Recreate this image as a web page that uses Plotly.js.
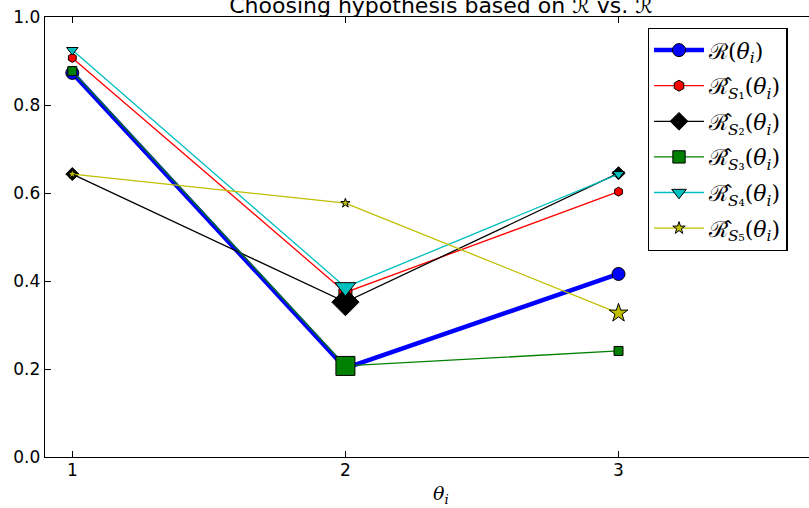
<!DOCTYPE html>
<html>
<head>
<meta charset="utf-8">
<script src="https://cdn.plot.ly/plotly-3.0.1.min.js"></script>
<style>
html,body{margin:0;padding:0;overflow:hidden;background:#fff;width:809px;height:508px;}
#chart{width:840px;height:508px;}
</style>
</head>
<body>
<div id="chart"></div>
<script>
// ---- data ----
const theta = [1, 2, 3];
const R_true = [0.873, 0.202, 0.416];
const R_S1 = [0.907, 0.374, 0.603];
const R_S2 = [0.643, 0.352, 0.645];
const R_S3 = [0.877, 0.207, 0.241];
const R_S4 = [0.925, 0.386, 0.643];
const R_S5 = [0.643, 0.577, 0.327];
const seriesNames = [
  "ℛ(<i>θ</i><sub><i>i</i></sub>)",
  "ℛ̂<sub><i>S</i>₁</sub>(<i>θ</i><sub><i>i</i></sub>)",
  "ℛ̂<sub><i>S</i>₂</sub>(<i>θ</i><sub><i>i</i></sub>)",
  "ℛ̂<sub><i>S</i>₃</sub>(<i>θ</i><sub><i>i</i></sub>)",
  "ℛ̂<sub><i>S</i>₄</sub>(<i>θ</i><sub><i>i</i></sub>)",
  "ℛ̂<sub><i>S</i>₅</sub>(<i>θ</i><sub><i>i</i></sub>)"
];
const yTicks = [0, 0.2, 0.4, 0.6, 0.8, 1.0];
const xTicks = [1, 2, 3];
const xTitle = '<i>θ</i><sub><i>i</i></sub>';

// ---- styles ----
const styles = [
  {color: '#0000ff', width: 4.5, symbol: 'circle', size: [13, 13, 13]},
  {color: '#ff0000', width: 1.3, symbol: 'hexagon', size: [9, 15, 9]},
  {color: '#000000', width: 1.3, symbol: 'diamond', size: [10, 21, 10]},
  {color: '#008000', width: 1.3, symbol: 'square', size: [9, 19, 9]},
  {color: '#00bfbf', width: 1.3, symbol: 'triangle-down', size: [10, 18, 10]},
  {color: '#bfbf00', width: 1.3, symbol: 'star', size: [7, 7, 14]}
];
const values = [R_true, R_S1, R_S2, R_S3, R_S4, R_S5];

const traces = values.map((v, i) => ({
  x: theta, y: v, type: 'scatter', mode: 'lines+markers', name: seriesNames[i],
  legendgroup: 'g' + i,
  line: {color: styles[i].color, width: styles[i].width},
  marker: {symbol: styles[i].symbol, size: styles[i].size, color: styles[i].color, opacity: 1,
           line: {color: '#000', width: 1}}
}));

const axisCommon = {
  showgrid: false, zeroline: false, showline: true, linecolor: '#000', linewidth: 1.3,
  mirror: 'ticks', ticks: 'inside', ticklen: 6, tickcolor: '#000', tickwidth: 1,
  tickfont: {family: 'DejaVu Sans', size: 17, color: '#000'}
};

const layout = {
  width: 840, height: 508,
  margin: {l: 45, r: 3, t: 17, b: 51},
  paper_bgcolor: '#fff', plot_bgcolor: '#fff',
  showlegend: true,
  title: {text: 'Choosing hypothesis based on ℛ̂ vs. ℛ', xref: 'paper', x: 0.5, xanchor: 'center',
          yref: 'container', y: 0.989, yanchor: 'middle',
          font: {family: 'DejaVu Sans', size: 22, color: '#000'}},
  xaxis: Object.assign({}, axisCommon, {range: [0.9, 3.8], tickvals: xTicks, ticktext: xTicks.map(String),
    ticklabelstandoff: -3}),
  yaxis: Object.assign({}, axisCommon, {range: [0, 1], tickvals: yTicks, ticktext: yTicks.map(v => v.toFixed(1))}),
  annotations: [{text: xTitle, xref: 'paper', yref: 'paper', x: 0.5, y: -0.086,
                 xanchor: 'center', yanchor: 'middle', showarrow: false,
                 font: {family: 'DejaVu Serif', size: 19, color: '#000'}}],
  legend: {x: 0.761, y: 0.975, xanchor: 'left', yanchor: 'top', bgcolor: '#fff',
           bordercolor: '#000', borderwidth: 1.3, itemwidth: 50,
           font: {family: 'DejaVu Serif', size: 22, color: '#000'}, tracegroupgap: 4}
};

Plotly.newPlot('chart', traces, layout, {displayModeBar: false, staticPlot: true});
</script>
</body>
</html>
